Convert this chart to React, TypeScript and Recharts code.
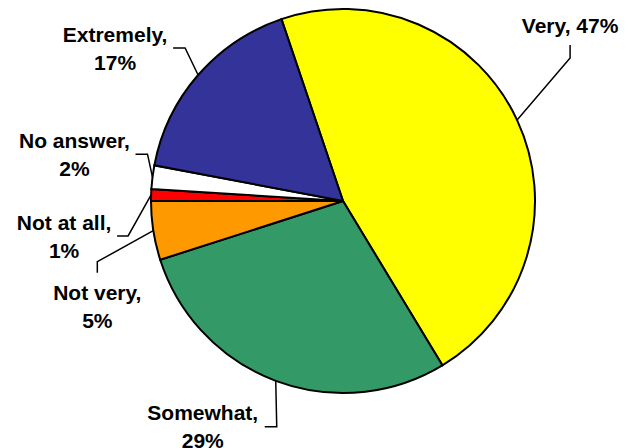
import { PieChart, Pie, Cell } from 'recharts';

// Survey answers, in clockwise order starting from the top
const categories = ['Very', 'Somewhat', 'Not very', 'Not at all', 'No answer', 'Extremely'];
const shares = [47, 29, 5, 1, 2, 17];
const colors = ['#FFFF00', '#339966', '#FF9900', '#FF0000', '#FFFFFF', '#333399'];

const data = categories.map((name, i) => ({ name, value: shares[i] }));

// label placement relative to the point where the leader meets the pie edge
type Pt = [number, number];
const labelLayout: Record<string, { elbow: Pt; end: Pt; text: Pt; oneLine?: boolean }> = {
  Very: { elbow: [53, -62], end: [53, -75], text: [53, -87], oneLine: true },
  Somewhat: { elbow: [1, 46], end: [-11, 46], text: [-73, 39] },
  'Not very': { elbow: [-56, 31], end: [-56, 42], text: [-56, 69] },
  'Not at all': { elbow: [-23, 41], end: [-34, 41], text: [-87, 35] },
  'No answer': { elbow: [-5, -23], end: [-17, -23], text: [-78, -29] },
  Extremely: { elbow: [-13, -27], end: [-25, -27], text: [-83, -33] },
};

const RADIAN = Math.PI / 180;

const renderLabel = (props: any) => {
  const { cx, cy, midAngle, outerRadius, name, value } = props;
  const layout = labelLayout[name];
  if (!layout) return null;
  const ex = cx + outerRadius * Math.cos(-midAngle * RADIAN);
  const ey = cy + outerRadius * Math.sin(-midAngle * RADIAN);
  const pts = [
    [ex, ey],
    [ex + layout.elbow[0], ey + layout.elbow[1]],
    [ex + layout.end[0], ey + layout.end[1]],
  ]
    .map((p) => p.join(','))
    .join(' ');
  const tx = ex + layout.text[0];
  const ty = ey + layout.text[1];
  return (
    <g key={name}>
      <polyline points={pts} fill="none" stroke="#000" strokeWidth={1.5} />
      <text
        x={tx}
        y={ty}
        textAnchor="middle"
        fill="#000"
        fontFamily="'Liberation Sans', Arial, sans-serif"
        fontWeight="bold"
        fontSize={21}
      >
        {layout.oneLine ? (
          `${name}, ${value}%`
        ) : (
          <>
            <tspan x={tx}>{`${name},`}</tspan>
            <tspan x={tx} dy={28}>{`${value}%`}</tspan>
          </>
        )}
      </text>
    </g>
  );
};

export default function App() {
  return (
    <div style={{ position: 'absolute', left: 0, top: 0, width: 635, height: 448, background: '#fff' }}>
      <PieChart width={635} height={448} margin={{ top: 0, right: 0, bottom: 0, left: 0 }}>
        <Pie
          data={data}
          dataKey="value"
          nameKey="name"
          cx={343}
          cy={201}
          outerRadius={192}
          startAngle={108.7}
          endAngle={-251.3}
          stroke="#000"
          strokeWidth={2}
          label={renderLabel}
          labelLine={false}
          isAnimationActive={false}
        >
          {data.map((d, i) => (
            <Cell key={d.name} fill={colors[i]} />
          ))}
        </Pie>
      </PieChart>
    </div>
  );
}
